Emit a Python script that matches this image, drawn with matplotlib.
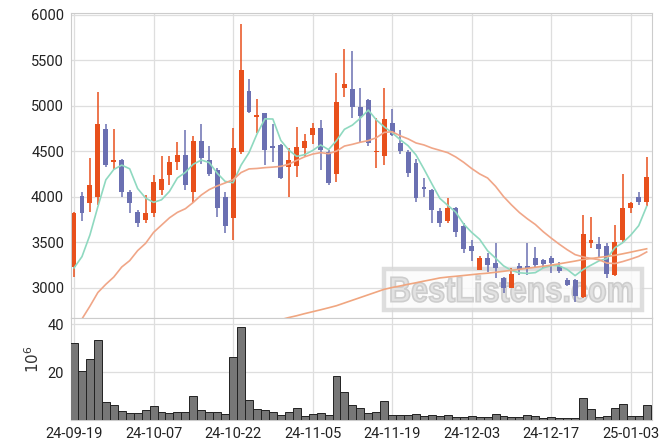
import numpy as np
import matplotlib
matplotlib.use('Agg')
import matplotlib.pyplot as plt
from matplotlib.patches import Rectangle, PathPatch
from matplotlib.textpath import TextPath
from matplotlib.font_manager import FontProperties
from matplotlib.transforms import Affine2D, IdentityTransform

plt.rcParams['font.family'] = ['Roboto', 'DejaVu Sans']

# trading days shown on the chart
dates = ['24-09-19', '24-09-20', '24-09-23', '24-09-24', '24-09-25', '24-09-26', '24-09-27', '24-09-30',
         '24-10-02', '24-10-04', '24-10-07', '24-10-08', '24-10-10', '24-10-11', '24-10-14', '24-10-15',
         '24-10-16', '24-10-17', '24-10-18', '24-10-21', '24-10-22', '24-10-23', '24-10-24', '24-10-25',
         '24-10-28', '24-10-29', '24-10-30', '24-10-31', '24-11-01', '24-11-04', '24-11-05', '24-11-06',
         '24-11-07', '24-11-08', '24-11-11', '24-11-12', '24-11-13', '24-11-14', '24-11-15', '24-11-18',
         '24-11-19', '24-11-20', '24-11-21', '24-11-22', '24-11-25', '24-11-26', '24-11-27', '24-11-28',
         '24-11-29', '24-12-02', '24-12-03', '24-12-04', '24-12-05', '24-12-06', '24-12-09', '24-12-10',
         '24-12-11', '24-12-12', '24-12-13', '24-12-16', '24-12-17', '24-12-18', '24-12-19', '24-12-20',
         '24-12-23', '24-12-24', '24-12-26', '24-12-27', '24-12-30', '25-01-02', '25-01-03', '25-01-06',
         '25-01-07']

opens = [3227, 4011, 3931, 4003, 4747, 4380, 4406, 4058, 3838, 3747, 3821, 4077, 4242, 4388, 4461, 4058,
         4615, 4406, 4297, 4003, 3766, 4491, 5165, 4882, 4920, 4560, 4571, 4333, 4341, 4535, 4681, 4761,
         4498, 4249, 5194, 5183, 4986, 5066, 4495, 4454, 4816, 4597, 4498, 4370, 4113, 4077, 3846, 3736,
         3882, 3681, 3461, 3198, 3333, 3271, 3106, 2996, 3241, 3241, 3333, 3307, 3326, 3241, 3088, 3088,
         2904, 3498, 3483, 3461, 3143, 3527, 3876, 3997, 3948]
highs = [3830, 4058, 4425, 5150, 4799, 4747, 4420, 4077, 3857, 4022, 4242, 4454, 4450, 4601, 4736, 4670,
         4799, 4564, 4319, 4058, 4755, 5901, 5297, 5077, 4925, 4799, 4580, 4535, 4772, 4689, 4810, 4846,
         4516, 5359, 5626, 5597, 5194, 5070, 4865, 5194, 4967, 4736, 4516, 4417, 4205, 4084, 3882, 3992,
         3885, 3711, 3527, 3351, 3381, 3491, 3124, 3216, 3271, 3491, 3454, 3315, 3351, 3289, 3106, 3095,
         3802, 3777, 3557, 3491, 3692, 4253, 3948, 4058, 4436]
lows = [3117, 3739, 3838, 3912, 4330, 4310, 4003, 3827, 3673, 3711, 3783, 4022, 4132, 4296, 4077, 3937,
        4363, 4231, 3783, 3601, 3527, 4472, 4920, 4700, 4351, 4388, 4200, 4003, 4223, 4440, 4582, 4296,
        4132, 4161, 5102, 4865, 4608, 4560, 4315, 4352, 4663, 4472, 4223, 3948, 4003, 3717, 3673, 3717,
        3557, 3388, 3300, 3198, 3179, 3106, 2948, 2996, 3143, 3143, 3227, 3216, 3168, 3168, 3022, 2849,
        2887, 3436, 3337, 3113, 3132, 3509, 3827, 3912, 3901]
closes = [3827, 3821, 4132, 4802, 4351, 4400, 4058, 3931, 3717, 3827, 4168, 4198, 4388, 4461, 4132, 4615,
          4425, 4253, 3875, 3681, 4542, 5388, 4937, 4901, 4516, 4535, 4212, 4406, 4553, 4615, 4761, 4516,
          4150, 5041, 5242, 4992, 4893, 4597, 4505, 4857, 4674, 4509, 4267, 3992, 4084, 3857, 3717, 3882,
          3618, 3425, 3410, 3333, 3253, 3216, 3003, 3154, 3205, 3223, 3253, 3264, 3278, 3190, 3033, 2912,
          3590, 3527, 3425, 3154, 3509, 3876, 3937, 3942, 4216]

# volume, millions of shares
volumes = [32.1, 20.4, 25.4, 33.3, 7.5, 6.25, 3.75, 2.9, 2.9, 4.2, 5.8, 3.3, 2.9, 3.3, 3.3, 10.0,
           4.2, 3.3, 3.3, 2.5, 26.25, 38.75, 8.3, 4.6, 4.2, 3.3, 2.1, 3.3, 4.8, 1.5, 2.5, 2.9,
           2.1, 18.2, 11.5, 6.25, 4.8, 2.9, 3.3, 7.75, 2.1, 2.1, 2.1, 2.5, 1.5, 2.1, 1.5, 2.1,
           1.2, 1.25, 1.7, 1.25, 1.25, 2.5, 1.7, 1.25, 1.25, 2.1, 1.7, 0.8, 1.25, 0.8, 0.8, 0.8,
           9.2, 4.6, 1.25, 1.7, 5.0, 6.7, 1.7, 1.7, 6.25]

# moving averages as drawn
ma5 = [3220, 3344, 3582, 3893, 4187, 4301, 4349, 4308, 4091, 3987, 3940, 3968, 4060, 4208, 4269, 4359,
       4404, 4377, 4260, 4170, 4155, 4348, 4485, 4690, 4857, 4855, 4620, 4514, 4444, 4464, 4509, 4570,
       4519, 4617, 4742, 4788, 4864, 4953, 4846, 4769, 4705, 4628, 4562, 4460, 4305, 4142, 3983, 3906,
       3832, 3700, 3610, 3534, 3408, 3327, 3243, 3192, 3166, 3160, 3168, 3220, 3245, 3242, 3204, 3135,
       3201, 3250, 3297, 3322, 3441, 3498, 3580, 3684, 3896]
ma20 = [2560, 2660, 2800, 2950, 3040, 3120, 3230, 3300, 3410, 3490, 3610, 3690, 3770, 3830, 3870, 3940,
        4020, 4080, 4120, 4153, 4189, 4267, 4307, 4312, 4321, 4327, 4335, 4359, 4401, 4440, 4470, 4486,
        4474, 4503, 4558, 4577, 4600, 4618, 4649, 4708, 4715, 4671, 4637, 4592, 4570, 4536, 4511, 4485,
        4438, 4379, 4311, 4252, 4207, 4116, 4004, 3912, 3828, 3759, 3697, 3617, 3547, 3481, 3420, 3366,
        3341, 3324, 3310, 3273, 3268, 3290, 3317, 3347, 3395]
ma120 = [np.nan] * 25 + [
        2630, 2652, 2675, 2695, 2718, 2739, 2760, 2782, 2805, 2835, 2865, 2895, 2925, 2955, 2985, 3005,
        3022, 3040, 3057, 3075, 3092, 3110, 3120, 3128, 3137, 3146, 3155, 3162, 3172, 3183, 3194, 3205,
        3216, 3227, 3238, 3250, 3265, 3280, 3295, 3312, 3323, 3335, 3346, 3358, 3375, 3393, 3412, 3430]

price_ticks = [3000, 3500, 4000, 4500, 5000, 5500, 6000]
vol_ticks = [20, 40]

up_col = '#e8501c'
down_col = '#6b70b2'
grid_col = '#dedede'

W, H = 671, 448
fig = plt.figure(figsize=(W / 100, H / 100), dpi=100)
ax = fig.add_axes([71 / W, 1 - 318 / H, 581 / W, 305 / H])
axv = fig.add_axes([71 / W, 1 - 420 / H, 581 / W, 102 / H], sharex=ax)

x = np.arange(len(dates))
o = np.array(opens, float)
c = np.array(closes, float)
cols = [up_col if cc >= oo else down_col for oo, cc in zip(o, c)]

ax.vlines(x, lows, highs, colors=cols, lw=1.1, zorder=3)
body = np.maximum(np.abs(c - o), 12)
ax.bar(x, body, bottom=np.minimum(o, c), width=0.62, color=cols, zorder=3)

ax.plot(x, ma5, color='#8fd9c0', lw=1.2, zorder=4)
ax.plot(x, ma20, color='#f0a688', lw=1.2, zorder=4)
ax.plot(x, ma120, color='#f0a680', lw=1.2, zorder=4)

ax.set_ylim(2670, 6019)
ax.set_yticks(price_ticks)
ax.set_xlim(-0.38, 72.67)

axv.bar(x, volumes, width=1.0, color='#777777', edgecolor='#222222', lw=0.7, zorder=3)
axv.set_ylim(0, 42.5)
axv.set_yticks(vol_ticks)
axv.set_xticks(x[::10])
axv.set_xticklabels(dates[::10])
axv.set_ylabel(r'$10^{6}$', fontsize=11, color='#333333')
axv.yaxis.set_label_coords(-0.05, 0.6)

for a in (ax, axv):
    a.grid(True, color=grid_col, lw=0.9, zorder=0)
    a.set_axisbelow(True)
    a.tick_params(length=0, labelsize=10.5, colors='#222222', pad=5)
    for s in a.spines.values():
        s.set_color('#cccccc')
ax.tick_params(labelbottom=False)

# watermark, under the candles but over the grid (pixel coordinates)
wm_box = Rectangle((384, H - 310), 258, 41, transform=IdentityTransform(), facecolor='#fbfbfb',
                   alpha=0.8, edgecolor='#d6d6d6', lw=3.2, zorder=2)
ax.add_patch(wm_box)
tp = TextPath((0, 0), 'BestListens.com', size=1, prop=FontProperties(family='Liberation Sans', weight='bold'))
ext = tp.get_extents()
sx = 241 / ext.width
sy = 26 / ext.height
tr = Affine2D().translate(-ext.x0, -ext.y0).scale(sx, sy).translate(391, H - 302)
wm = PathPatch(tr.transform_path(tp), transform=IdentityTransform(), facecolor='#e2e2e2',
               edgecolor='#cdcdcd', lw=1.2, zorder=2.5)
ax.add_patch(wm)

fig.savefig('out.png', dpi=100)
